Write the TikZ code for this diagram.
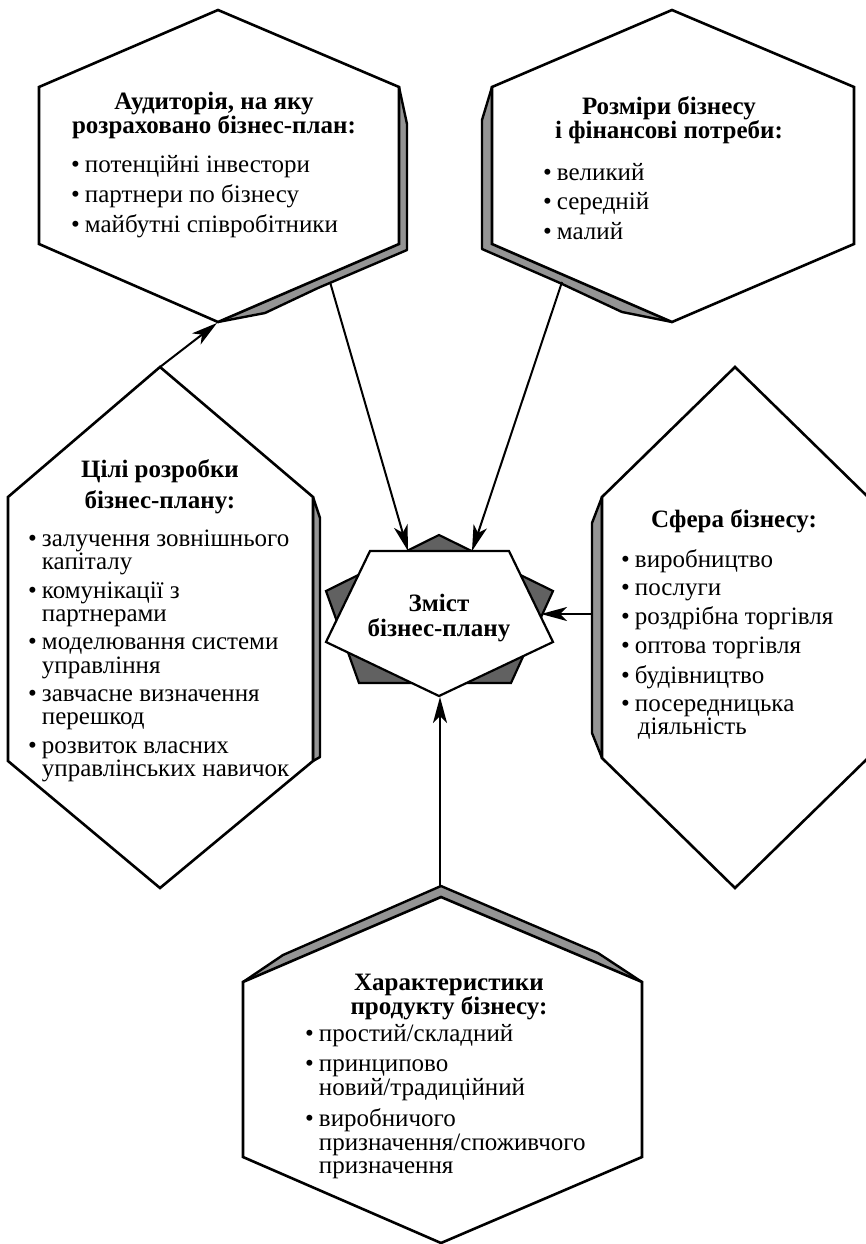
\documentclass[tikz,border=0pt]{standalone}
\usepackage{fontspec}
\setmainfont{Liberation Serif}
\usetikzlibrary{arrows.meta,calc,positioning}
\tikzstyle{hexa} = [draw,line width=2.6pt,fill=white,line join=miter]
\tikzstyle{side} = [draw,line width=2.4pt,fill=black!42,line join=round]
\tikzstyle{star} = [draw,line width=2.2pt,fill=black!62,line join=miter]
\tikzstyle{conn} = [line width=2pt,-{Stealth[length=26pt,width=14pt,inset=7pt]}]
\tikzstyle{ttl} = [font=\fontsize{25}{24}\selectfont\bfseries,align=center,inner sep=0]
\tikzstyle{lst} = [font=\fontsize{25}{23}\selectfont,inner sep=0,anchor=base west]
\def\bl{\textbullet}
\def\gap{5.5pt}

\begin{document}
\begin{tikzpicture}[x=1pt,y=-1pt]
  \useasboundingbox (0,0) rectangle (865,1244);

  % audience
  \draw[side] (399,87) -- (407,124) -- (407,250) -- (318,288) -- (265,313) -- (218,322) -- cycle;
  \draw[hexa] (218,10) -- (399,87) -- (399,244) -- (218,322) -- (39,244) -- (39,87) -- cycle;
  \node[ttl] (aud-title) at (214,115) {Аудиторія, на яку\\розраховано бізнес-план:};
  \node[lst] (aud-list) at (71,172) {\begin{tabular}[t]{@{}l@{\hspace{5pt}}l@{}}
    \bl & потенційні інвестори\\[\gap]
    \bl & партнери по бізнесу\\[\gap]
    \bl & майбутні співробітники
  \end{tabular}};

  % sizes
  \draw[side] (492,87) -- (482,120) -- (482,249) -- (560,283) -- (622,312) -- (672,322) -- cycle;
  \draw[hexa] (672,10) -- (854,87) -- (854,244) -- (672,322) -- (492,244) -- (492,87) -- cycle;
  \node[ttl] (siz-title) at (669,120) {Розміри бізнесу\\і фінансові потреби:};
  \node[lst] (siz-list) at (543,180) {\begin{tabular}[t]{@{}l@{\hspace{5pt}}l@{}}
    \bl & великий\\[\gap]
    \bl & середній\\[\gap]
    \bl & малий
  \end{tabular}};

  % goals
  \draw[side] (313,497) -- (320,518) -- (320,757) -- (313,761) -- cycle;
  \draw[hexa] (160,367) -- (313,497) -- (313,761) -- (160,888) -- (8,761) -- (8,497) -- cycle;
  \node[ttl,font=\fontsize{25}{31}\selectfont\bfseries] (goal-title) at (160,487) {Цілі розробки\\бізнес-плану:};
  \node[lst] (goal-list) at (28,546) {\begin{tabular}[t]{@{}l@{\hspace{5pt}}l@{}}
    \bl & залучення зовнішнього\\
        & капіталу\\[\gap]
    \bl & комунікації з\\
        & партнерами\\[\gap]
    \bl & моделювання системи\\
        & управління\\[\gap]
    \bl & завчасне визначення\\
        & перешкод\\[\gap]
    \bl & розвиток власних\\
        & управлінських навичок
  \end{tabular}};

  % sphere
  \draw[side] (602,497) -- (592,523) -- (592,733) -- (602,758) -- cycle;
  \draw[hexa] (735,367) -- (868,497) -- (868,758) -- (735,888) -- (602,758) -- (602,497) -- cycle;
  \node[ttl] (sph-title) at (734,521) {Сфера бізнесу:};
  \node[lst] (sph-list) at (621,567) {\begin{tabular}[t]{@{}l@{\hspace{5pt}}l@{}}
    \bl & виробництво\\[5pt]
    \bl & послуги\\[5pt]
    \bl & роздрібна торгівля\\[5pt]
    \bl & оптова торгівля\\[5pt]
    \bl & будівництво\\[5pt]
    \bl & посередницька\\
        & \hspace{3pt}діяльність
  \end{tabular}};

  % product
  \draw[side] (243,982) -- (283,955) -- (441,886) -- (598,953) -- (642,982) -- cycle;
  \draw[hexa] (441,897) -- (642,982) -- (642,1157) -- (441,1243) -- (243,1157) -- (243,982) -- cycle;
  \node[ttl] (chr-title) at (449,997) {Характеристики\\продукту бізнесу:};
  \node[lst] (chr-list) at (305,1041) {\begin{tabular}[t]{@{}l@{\hspace{5pt}}l@{}}
    \bl & простий/складний\\[7pt]
    \bl & принципово\\
        & новий/традиційний\\[7pt]
    \bl & виробничого\\
        & призначення/споживчого\\
        & призначення
  \end{tabular}};

  % centre
  \draw[star] (439,535) -- (553,591) -- (511,683) -- (359,683) -- (326,591) -- cycle;
  \draw[hexa,line width=2.2pt] (370,551) -- (509,551) -- (553,642) -- (439,696) -- (326,642) -- cycle;
  \node[ttl,font=\fontsize{25}{25}\selectfont\bfseries] (cnt) at (439,618) {Зміст\\бізнес-плану};

  % connectors
  \coordinate (goal-top) at (160,367);
  \coordinate (aud-bot) at (217,323);
  \coordinate (aud-out) at (330,282);
  \coordinate (siz-out) at (562,282);
  \coordinate (sph-out) at (592,614);
  \coordinate (chr-out) at (440,886);
  \coordinate (cnt-tl) at (408,551);
  \coordinate (cnt-tr) at (472,551);
  \coordinate (cnt-r) at (541,614);
  \coordinate (cnt-b) at (440,697);
  \draw[conn] (goal-top) -- (aud-bot);
  \draw[conn] (aud-out) -- (cnt-tl);
  \draw[conn] (siz-out) -- (cnt-tr);
  \draw[conn] (sph-out) -- (cnt-r);
  \draw[conn] (chr-out) -- (cnt-b);
\end{tikzpicture}
\end{document}
